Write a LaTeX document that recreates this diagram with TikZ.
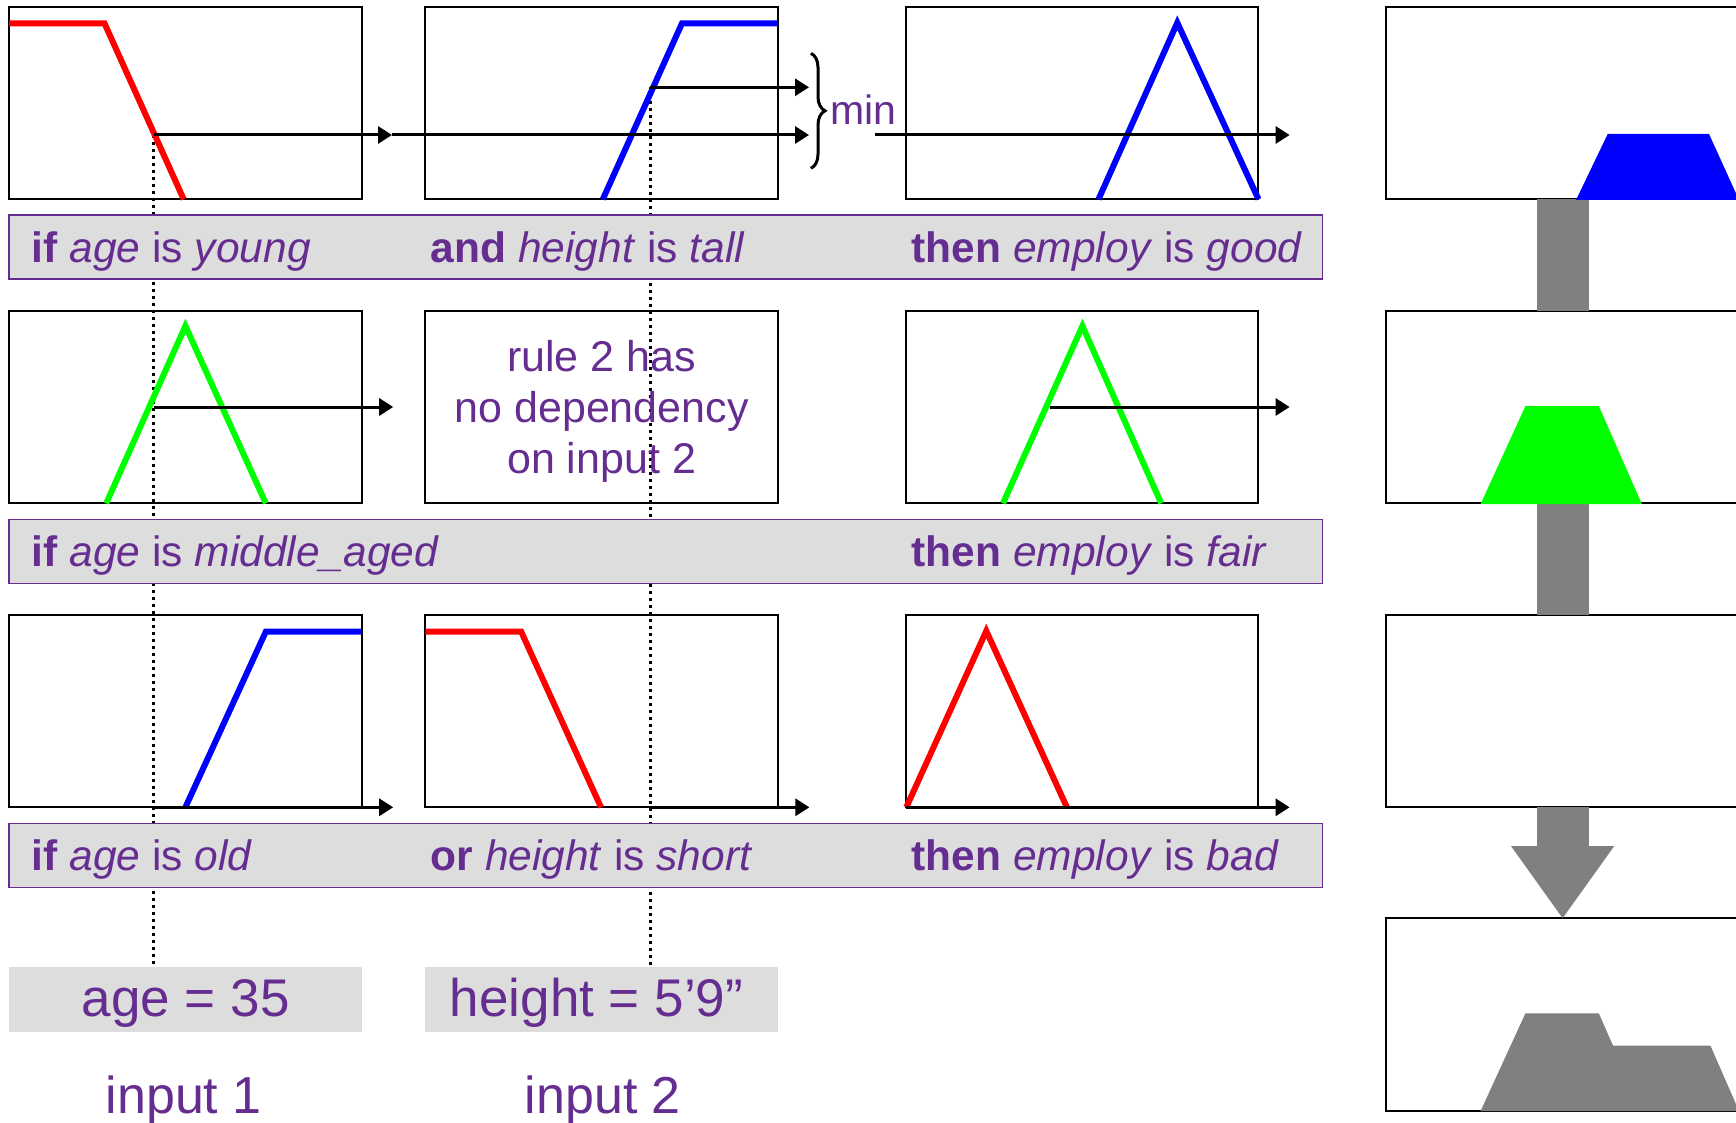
\documentclass[tikz,border=0pt]{standalone}
\usepackage{fontspec}
\setmainfont{Liberation Sans}
\usepackage{tikz}
\usetikzlibrary{arrows.meta,decorations.pathreplacing,positioning}

\definecolor{txtpurple}{RGB}{102,45,145}
\definecolor{barfill}{RGB}{221,221,221}
\definecolor{aggray}{RGB}{128,128,128}
\definecolor{mfred}{RGB}{255,0,0}
\definecolor{mfblue}{RGB}{0,0,255}
\definecolor{mfgreen}{RGB}{0,255,0}

\tikzset{
  mfbox/.style={draw,line width=2pt,minimum width=352.4pt,minimum height=192.6pt,inner sep=0pt,outer sep=0pt},
  rulebar/.style={draw=txtpurple,fill=barfill,line width=1.5pt,minimum width=1313.2pt,minimum height=64pt,inner sep=0pt,outer sep=0pt,anchor=north west},
  inbar/.style={fill=barfill,minimum width=352.4pt,minimum height=65pt,inner sep=0pt,outer sep=0pt},
  ruletxt/.style={text=txtpurple,font=\fontsize{42.5}{50}\selectfont,anchor=base west,inner sep=0pt},
  intxt/.style={text=txtpurple,font=\fontsize{53}{60}\selectfont,anchor=base,inner sep=0pt},
  mf/.style={line width=6pt},
  cut/.style={line width=3pt,-{Triangle[length=14pt,width=17pt]}},
  drop/.style={line width=3pt,dash pattern=on 3pt off 4pt},
  shaft/.style={aggray,line width=52pt},
}

\begin{document}
\begin{tikzpicture}[x=1pt,y=-1pt]
\clip (0,0) rectangle (1736,1123);

% crisp values read off the membership functions
\coordinate (ageY) at (153.8,135);
\coordinate (ageM) at (153.8,407);
\coordinate (ageO) at (153.8,807.3);
\coordinate (hgtT) at (650.4,87.3);
\coordinate (hgtS) at (650.4,807.3);

% input values
\node[inbar] (in1) at (185.4,999.2) {};
\node[inbar] (in2) at (601.6,999.2) {};
\draw[drop] (ageY) -- (ageY |- in1.north);
\draw[drop] (hgtT) -- (hgtT |- in2.north);
\node[intxt] (val1) at (185.8,1016.7) {age = 35};
\node[intxt] (val2) at (596.5,1016.7) {height = 5’9”};
\node[intxt,font=\fontsize{52}{60}\selectfont] (inp1) at (183.7,1113.3) {input 1};
\node[intxt,font=\fontsize{52}{60}\selectfont] (inp2) at (602.8,1113.3) {input 2};

% boxes
\node[mfbox] (b11) at (185.4,103) {};
\node[mfbox] (b12) at (601.6,103) {};
\node[mfbox] (b13) at (1082.1,103) {};
\node[mfbox] (b21) at (185.4,407.15) {};
\node[mfbox] (b22) at (601.6,407.15) {};
\node[mfbox] (b23) at (1082.1,407.15) {};
\node[mfbox] (b31) at (185.4,711.15) {};
\node[mfbox] (b32) at (601.6,711.15) {};
\node[mfbox] (b33) at (1082.1,711.15) {};
\node[mfbox] (out1) at (1562.6,103) {};
\node[mfbox] (out2) at (1562.6,407.15) {};
\node[mfbox] (out3) at (1562.6,711.15) {};
\node[mfbox] (out4) at (1562.6,1014.5) {};

% rule bars
\node[rulebar] (bar1) at (9.2,215) {};
\node[rulebar] (bar2) at (9.2,519.3) {};
\node[rulebar] (bar3) at (9.2,823.3) {};
\node[ruletxt] (r1a) at (31.6,262) {\textbf{if} \textit{age} is \textit{young}};
\node[ruletxt] (r1b) at (430.5,262) {\textbf{and} \textit{height} is \textit{tall}};
\node[ruletxt] (r1c) at (911.6,262) {\textbf{then} \textit{employ} is \textit{good}};
\node[ruletxt] (r2a) at (31.6,566) {\textbf{if} \textit{age} is \textit{middle\_aged}};
\node[ruletxt] (r2c) at (911.6,566) {\textbf{then} \textit{employ} is \textit{fair}};
\node[ruletxt] (r3a) at (31.6,870.7) {\textbf{if} \textit{age} is \textit{old}};
\node[ruletxt] (r3b) at (430.5,870.7) {\textbf{or} \textit{height} is \textit{short}};
\node[ruletxt] (r3c) at (911.6,870.7) {\textbf{then} \textit{employ} is \textit{bad}};

\node[text=txtpurple,font=\fontsize{43}{51}\selectfont,align=center,inner sep=0pt] (note) at (601.6,411) {rule 2 has\\no dependency\\on input 2};

% membership functions
\draw[mf,mfred] (9.2,23.3) -- (104.5,23.3) -- (183.7,199.3);
\draw[mf,mfblue] (602.8,199.3) -- (682,23.3) -- (777.8,23.3);
\draw[mf,mfblue] (1098.5,199.3) -- (1177.3,22.7) -- (1258.5,199.3);
\draw[mf,mfgreen] (106.2,503.3) -- (185.4,326) -- (265.8,503.3);
\draw[mf,mfgreen] (1003,503.3) -- (1082.4,326) -- (1161.2,503.3);
\draw[mf,mfblue] (185.4,807.3) -- (265.8,631.7) -- (361.6,631.7);
\draw[mf,mfred] (425.4,631.7) -- (521.2,631.7) -- (601,807.3);
\draw[mf,mfred] (906.3,807.3) -- (986.3,631) -- (1066.9,807.3);

% firing strengths
\coordinate (ageYm) at (392,135);
\coordinate (ageYe) at (809,135);
\coordinate (hgtTe) at (809,87.3);
\coordinate (goodS) at (874.5,135);
\coordinate (goodE) at (1289.6,135);
\coordinate (ageMe) at (393.2,407);
\coordinate (fairS) at (1049.6,407);
\coordinate (fairE) at (1289.6,407);
\coordinate (ageOe) at (393.2,807.3);
\coordinate (hgtSe) at (809.4,807.3);
\coordinate (badS) at (906,807.3);
\coordinate (badE) at (1289.6,807.3);
\draw[cut] (ageY) -- (ageYm);
\draw[cut] (ageYm) -- (ageYe);
\draw[cut] (hgtT) -- (hgtTe);
\draw[cut] (goodS) -- (goodE);
\draw[cut] (ageM) -- (ageMe);
\draw[cut] (fairS) -- (fairE);
\draw[cut] (ageO) -- (ageOe);
\draw[cut] (hgtS) -- (hgtSe);
\draw[cut] (badS) -- (badE);

\draw[line width=3pt,decorate,decoration={brace,amplitude=14pt}] (811,53.3) -- (811,168.3);
\node[text=txtpurple,font=\fontsize{41}{48}\selectfont,anchor=base west,inner sep=0pt] (minlbl) at (830,125) {min};

% aggregation
\draw[shaft] (out1.south) -- (out2.north);
\draw[shaft] (out2.south) -- (out3.north);
\draw[shaft,-{Triangle[length=72pt,width=103pt,line width=0pt]}] (out3.south) -- (out4.north);
\fill[mfblue] (1576,200) -- (1607.7,134) -- (1709,134) -- (1739,200) -- cycle;
\fill[mfgreen] (1480.6,504) -- (1525.4,406) -- (1598.8,406) -- (1641.8,504) -- cycle;
\fill[aggray] (1480.6,1111) -- (1525.4,1013.3) -- (1598.8,1013.3) -- (1613,1045.6) -- (1710.4,1045.6) -- (1739,1111) -- cycle;
\end{tikzpicture}
\end{document}
